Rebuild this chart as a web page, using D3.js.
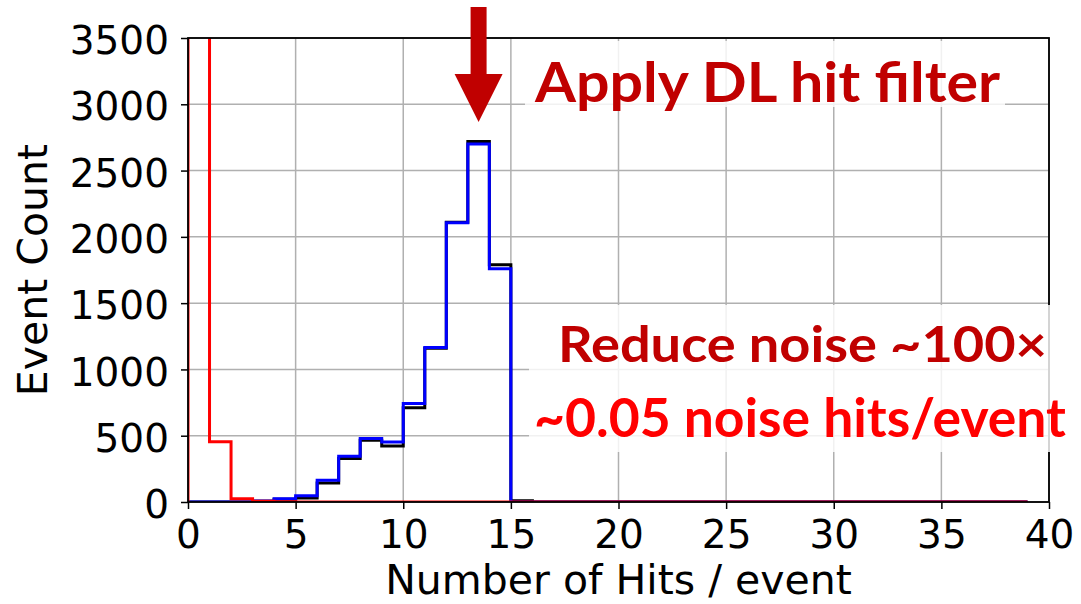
<!DOCTYPE html>
<html>
<head>
<meta charset="utf-8">
<script src="https://cdn.jsdelivr.net/npm/d3@7"></script>
<style>
  body { margin: 0; background: #fff; }
  svg { display: block; }
</style>
</head>
<body>
<div id="chart"></div>
<script>
// histogram bins: edges 0..39, width 1
const binEdges = d3.range(0, 40);
// all hits (black)
const allHits = [0, 0, 0, 5, 20, 30, 144, 328, 466, 423, 710, 1160, 2110, 2720, 1790, 10,
  0, 0, 0, 0, 0, 0, 0, 0, 0, 0, 0, 0, 0, 0, 0, 0, 0, 0, 0, 0, 0, 0, 0];
// after DL hit filter (blue)
const filteredHits = [0, 0, 0, 8, 25, 48, 164, 345, 479, 453, 743, 1166, 2107, 2700, 1760, 0,
  0, 0, 0, 0, 0, 0, 0, 0, 0, 0, 0, 0, 0, 0, 0, 0, 0, 0, 0, 0, 0, 0, 0];
// noise hits (red), first bin is off scale
const noiseHits = [32000, 455, 25, 6, 2, 0, 0, 0, 0, 0, 0, 0, 0, 0, 0, 0,
  0, 0, 0, 0, 0, 0, 0, 0, 0, 0, 0, 0, 0, 0, 0, 0, 0, 0, 0, 0, 0, 0, 0];
const xTicks = [0, 5, 10, 15, 20, 25, 30, 35, 40];
const yTicks = [0, 500, 1000, 1500, 2000, 2500, 3000, 3500];

const width = 1081;
const height = 604;
const margin = { top: 38, right: 32, bottom: 102, left: 188 };

const svg = d3.select("#chart")
  .append("svg")
  .attr("width", width)
  .attr("height", height);

const x = d3.scaleLinear()
  .domain([0, 40])
  .range([margin.left, width - margin.right]);

const y = d3.scaleLinear()
  .domain([0, 3500])
  .range([height - margin.bottom, margin.top]);

svg.append("clipPath").attr("id", "plot")
  .append("rect")
  .attr("x", margin.left).attr("y", margin.top)
  .attr("width", width - margin.left - margin.right)
  .attr("height", height - margin.top - margin.bottom);

// grid
svg.append("g")
  .selectAll("line")
  .data(xTicks)
  .join("line")
  .attr("x1", d => x(d)).attr("x2", d => x(d))
  .attr("y1", margin.top).attr("y2", height - margin.bottom)
  .attr("stroke", "#b0b0b0").attr("stroke-width", 1.5);

svg.append("g")
  .selectAll("line")
  .data(yTicks)
  .join("line")
  .attr("x1", margin.left).attr("x2", width - margin.right)
  .attr("y1", d => y(d)).attr("y2", d => y(d))
  .attr("stroke", "#b0b0b0").attr("stroke-width", 1.5);

// step outlines like matplotlib histtype='step'
function stepPoints(values) {
  const pts = [[binEdges[0], 0]];
  values.forEach((v, i) => pts.push([binEdges[i], v]));
  const last = binEdges[binEdges.length - 1];
  pts.push([last, values[values.length - 1]]);
  pts.push([last, 0]);
  return pts;
}

const line = d3.line()
  .x(d => x(d[0]))
  .y(d => y(d[1]))
  .curve(d3.curveStepAfter);

const series = [
  { values: allHits, color: "#000000" },
  { values: filteredHits, color: "#0000ff" },
  { values: noiseHits, color: "#ff0000" }
];

svg.append("g")
  .attr("clip-path", "url(#plot)")
  .selectAll("path")
  .data(series)
  .join("path")
  .attr("d", d => line(stepPoints(d.values)))
  .attr("fill", "none")
  .attr("stroke", d => d.color)
  .attr("stroke-width", 3)
  .attr("stroke-linejoin", "miter");

// axes
const xAxis = svg.append("g")
  .attr("transform", `translate(0,${height - margin.bottom})`)
  .call(d3.axisBottom(x).tickValues(xTicks).tickSize(7).tickPadding(11).tickSizeOuter(0));

const yAxis = svg.append("g")
  .attr("transform", `translate(${margin.left},0)`)
  .call(d3.axisLeft(y).tickValues(yTicks).tickFormat(d3.format("d"))
    .tickSize(7).tickPadding(12).tickSizeOuter(0));

[xAxis, yAxis].forEach(g => {
  g.select(".domain").remove();
  g.selectAll("line").attr("stroke", "#000").attr("stroke-width", 1.5);
  g.selectAll("text")
    .attr("fill", "#000")
    .style("font-family", "DejaVu Sans")
    .style("font-size", "39px");
});
yAxis.selectAll("text").attr("dy", "0.40em");

// frame
svg.append("rect")
  .attr("x", margin.left).attr("y", margin.top)
  .attr("width", width - margin.left - margin.right)
  .attr("height", height - margin.top - margin.bottom)
  .attr("fill", "none")
  .attr("stroke", "#000")
  .attr("stroke-width", 1.8);

// axis labels
svg.append("text")
  .attr("x", (margin.left + width - margin.right) / 2)
  .attr("y", 594)
  .attr("text-anchor", "middle")
  .style("font-family", "DejaVu Sans")
  .style("font-size", "41px")
  .text("Number of Hits / event");

svg.append("text")
  .attr("transform", `translate(47,${(margin.top + height - margin.bottom) / 2}) rotate(-90)`)
  .attr("text-anchor", "middle")
  .style("font-family", "DejaVu Sans")
  .style("font-size", "41px")
  .text("Event Count");

// annotations
svg.append("rect")
  .attr("x", 525).attr("y", 41).attr("width", 480).attr("height", 66)
  .attr("fill", "#fff").attr("opacity", 0.82);

svg.append("rect")
  .attr("x", 529).attr("y", 305).attr("width", 552).attr("height", 147)
  .attr("fill", "#fff").attr("opacity", 0.82);

const ax = x(13.5);
svg.append("path")
  .attr("d", `M${ax - 8},7 L${ax + 8},7 L${ax + 8},74 L${ax + 24},74 L${ax},122 L${ax - 24},74 L${ax - 8},74 Z`)
  .attr("fill", "#c00000");

const notes = [
  { text: "Apply DL hit filter", x: 535, y: 102, len: 465, size: 56, color: "#c00000" },
  { text: "Reduce noise ~100\u00d7", x: 558, y: 362, len: 489, size: 50, color: "#c00000" },
  { text: "~0.05 noise hits/event", x: 534, y: 437, len: 532, size: 53, color: "#ff0000" }
];

svg.append("g")
  .selectAll("text")
  .data(notes)
  .join("text")
  .attr("x", d => d.x)
  .attr("y", d => d.y)
  .attr("textLength", d => d.len)
  .attr("lengthAdjust", "spacingAndGlyphs")
  .attr("fill", d => d.color)
  .style("font-family", "Lato, 'Open Sans', sans-serif")
  .style("font-weight", "bold")
  .style("font-size", d => d.size + "px")
  .text(d => d.text);
</script>
</body>
</html>
